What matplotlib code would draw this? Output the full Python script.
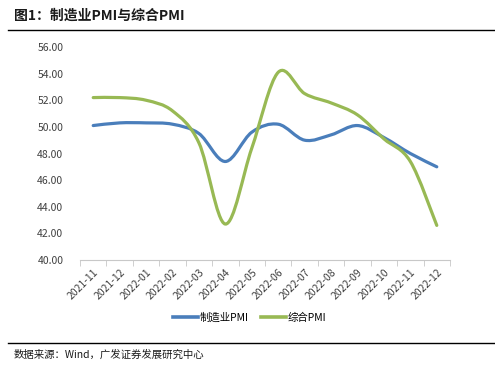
import numpy as np
import matplotlib
matplotlib.use("Agg")
import matplotlib.pyplot as plt
from matplotlib.path import Path
from matplotlib.patches import PathPatch
from matplotlib.lines import Line2D

plt.rcParams['font.family'] = ['Noto Sans CJK SC', 'DejaVu Sans']

months = ['2021-11', '2021-12', '2022-01', '2022-02', '2022-03', '2022-04', '2022-05',
          '2022-06', '2022-07', '2022-08', '2022-09', '2022-10', '2022-11', '2022-12']
manufacturing_pmi = [50.1, 50.3, 50.3, 50.2, 49.5, 47.4, 49.6, 50.2, 49.0, 49.4, 50.1, 49.2, 48.0, 47.0]
composite_pmi = [52.2, 52.2, 52.0, 51.2, 48.8, 42.7, 48.4, 54.1, 52.5, 51.8, 50.9, 49.1, 47.4, 42.6]

BLUE = '#4a7ebb'
GREEN = '#98b954'


def smooth_path(xs, ys, tension=1 / 6):
    # Excel-style smoothed line: Catmull-Rom segments as cubic Bezier curves
    xs = np.asarray(xs, float)
    ys = np.asarray(ys, float)
    n = len(xs)
    verts = [(xs[0], ys[0])]
    codes = [Path.MOVETO]
    for i in range(n - 1):
        p0 = i - 1 if i > 0 else i
        p3 = i + 2 if i + 2 < n else i + 1
        c1 = (xs[i] + (xs[i + 1] - xs[p0]) * tension, ys[i] + (ys[i + 1] - ys[p0]) * tension)
        c2 = (xs[i + 1] - (xs[p3] - xs[i]) * tension, ys[i + 1] - (ys[p3] - ys[i]) * tension)
        verts += [c1, c2, (xs[i + 1], ys[i + 1])]
        codes += [Path.CURVE4] * 3
    return Path(verts, codes)


fig = plt.figure(figsize=(4.95, 3.68), dpi=100)
ax = fig.add_axes([80 / 495, 1 - 260 / 368, 370 / 495, 213 / 368])

x = np.arange(len(months))
for ys, color in [(manufacturing_pmi, BLUE), (composite_pmi, GREEN)]:
    ax.add_patch(PathPatch(smooth_path(x, ys), facecolor='none', edgecolor=color,
                           lw=2.3, capstyle='round', joinstyle='round'))

ax.set_xlim(-0.5, len(months) - 0.5)
ax.set_ylim(40, 56)
ax.set_yticks(np.arange(40, 57, 2))
ax.set_yticklabels(['%.2f' % v for v in np.arange(40, 57, 2)])
ax.set_xticks(x)
ax.set_xticklabels(months, rotation=45, ha='right', rotation_mode='anchor')
ax.set_xticks(np.arange(-0.5, len(months), 1), minor=True)

for s in ['top', 'right', 'left']:
    ax.spines[s].set_visible(False)
ax.spines['bottom'].set_color('#c8c8c8')
ax.tick_params(axis='y', length=0, pad=12, labelsize=7.5, labelcolor='#404040')
ax.tick_params(axis='x', which='major', length=0, pad=5, labelsize=7.5, labelcolor='#404040')
ax.tick_params(axis='x', which='minor', length=4, color='#c8c8c8')

handles = [Line2D([], [], color=BLUE, lw=2.6), Line2D([], [], color=GREEN, lw=2.6)]
fig.legend(handles, ['制造业PMI', '综合PMI'], loc='center', bbox_to_anchor=(250 / 495, 1 - 318 / 368),
           ncol=2, frameon=False, fontsize=7.5, handlelength=2.4, handletextpad=0.15,
           columnspacing=1.2, borderpad=0)

fig.text(14 / 495, 1 - 16 / 368, '图1：制造业PMI与综合PMI', fontsize=10, fontweight='bold',
         va='center', ha='left', color='#1a1a1a')
fig.add_artist(Line2D([8 / 495, 1.0], [1 - 30 / 368] * 2, color='black', lw=1.0))
fig.add_artist(Line2D([8 / 495, 1.0], [1 - 343 / 368] * 2, color='black', lw=1.0))
fig.text(14 / 495, 1 - 355 / 368, '数据来源：Wind，广发证券发展研究中心', fontsize=7.5,
         va='center', ha='left', color='#1a1a1a')

fig.savefig('out.png', dpi=100)
